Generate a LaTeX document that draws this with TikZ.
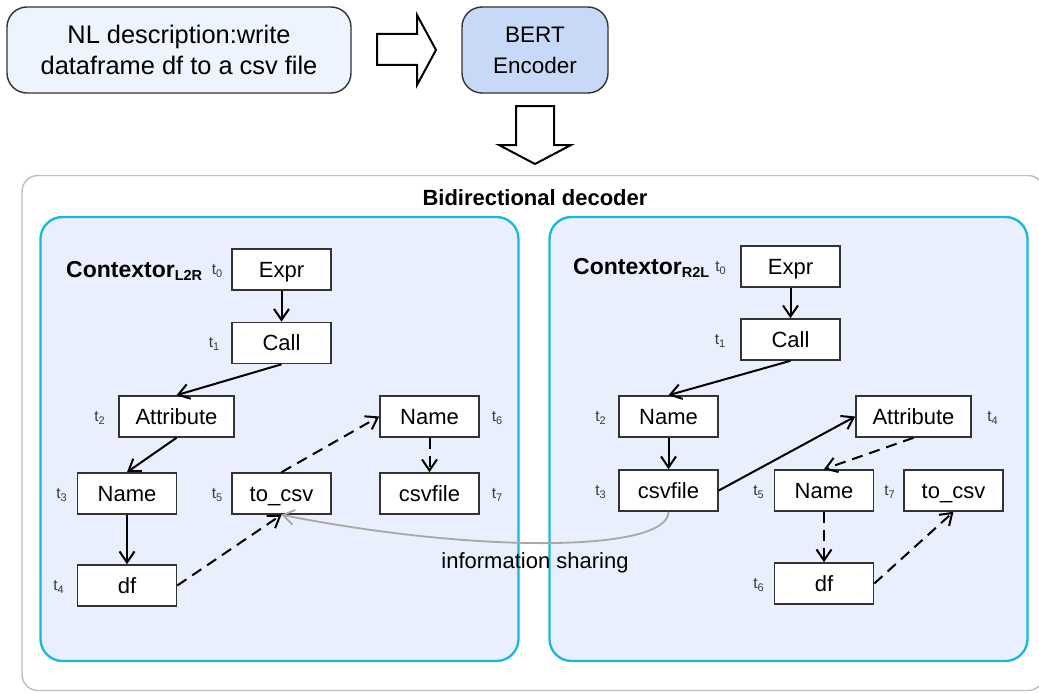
\documentclass[tikz,border=0pt]{standalone}
\usepackage{fontspec}
\setmainfont{Liberation Sans}
\usetikzlibrary{arrows.meta}
\definecolor{nlfill}{HTML}{EEF4FE}
\definecolor{bertfill}{HTML}{C7D9F6}
\definecolor{boxline}{HTML}{333333}
\definecolor{outerline}{HTML}{BDBDBD}
\definecolor{panelline}{HTML}{1AB7DC}
\definecolor{panelfill}{HTML}{E9EFFC}
\definecolor{shareline}{HTML}{A8A8A8}
\definecolor{tcolor}{HTML}{3A3A3A}
\tikzset{
  topbox/.style={draw=boxline, line width=1.4pt, rounded corners=20pt, minimum height=86pt,
    inner sep=0pt, align=center},
  hollow/.style={draw=black, line width=2pt, fill=white, line join=miter},
  outer/.style={draw=outerline, line width=1.4pt, rounded corners=16pt, fill=white, inner sep=0pt},
  panel/.style={draw=panelline, line width=2.3pt, rounded corners=22pt, fill=panelfill, inner sep=0pt},
  ast/.style={draw=boxline, fill=white, line width=1.6pt, minimum width=99pt, minimum height=41pt,
    inner sep=0pt, text height=15.8pt, text depth=0pt, font=\fontsize{22}{26}\selectfont},
  wide/.style={minimum width=115pt},
  tlab/.style={inner sep=0pt, text=tcolor, font=\fontsize{15.5}{18}\selectfont},
  ctx/.style={inner sep=0pt, font=\bfseries\fontsize{23}{26}\selectfont},
  link/.style={-{Straight Barb[length=11pt,width=15pt]}, line width=2pt, draw=black},
  dlink/.style={link, dash pattern=on 11pt off 7pt},
  share/.style={-{Straight Barb[length=11pt,width=15pt]}, line width=1.8pt, draw=shareline},
}
\newcommand{\tsub}[1]{t\raisebox{-3pt}{\fontsize{11}{12}\selectfont #1}}
\newcommand{\ctxsub}[1]{\raisebox{-3.5pt}{\fontsize{14.5}{16}\selectfont #1}}
\begin{document}
\begin{tikzpicture}[x=1pt,y=-1pt]
\useasboundingbox (0,0) rectangle (1039,693);

% input and encoder
\node[topbox, fill=nlfill, minimum width=344pt, font=\fontsize{25.4}{31}\selectfont]
  (nl) at (179,50) {NL description:write\\dataframe df to a csv file};
\node[topbox, fill=bertfill, minimum width=146pt, font=\fontsize{22.5}{31}\selectfont]
  (bert) at (535,50) {BERT\\Encoder};

% hollow block arrows
\draw[hollow] (377,34) -- (417,34) -- (417,15) -- (436,50) -- (417,85) -- (417,65) -- (377,65) -- cycle;
\draw[hollow] (516,106) -- (554,106) -- (554,145) -- (571,145) -- (535,164) -- (499,145) -- (516,145) -- cycle;

% decoder frame and the two contextor panels
\node[outer, minimum width=1022pt, minimum height=515pt] (dec) at (533,433) {};
\node[ctx, font=\bfseries\fontsize{22}{26}\selectfont] (dectitle) at (535,198) {Bidirectional decoder};
\node[panel, minimum width=478pt, minimum height=444pt] (pL) at (279.5,439) {};
\node[panel, minimum width=478pt, minimum height=444pt] (pR) at (788.5,439) {};

% left-to-right contextor
\node[ctx, anchor=base west] (ctxL) at (66,277) {Contextor\ctxsub{L2R}};
\node[ast] (eL) at (281.5,269.5) {Expr};
\node[ast] (cL) at (281.5,343) {Call};
\node[ast, wide] (aL) at (176.5,416.5) {Attribute};
\node[ast] (n3L) at (127,493.5) {Name};
\node[ast] (tcL) at (281.5,493.5) {to\_csv};
\node[ast] (n6L) at (429.5,416.5) {Name};
\node[ast] (cfL) at (429.5,493.5) {csvfile};
\node[ast] (dfL) at (127,585.5) {df};

\node[tlab] (lt0) at (217,271) {\tsub{0}};
\node[tlab] (lt1) at (214,344) {\tsub{1}};
\node[tlab] (lt2) at (99.5,418) {\tsub{2}};
\node[tlab] (lt3) at (61.5,495) {\tsub{3}};
\node[tlab] (lt4) at (58.5,587) {\tsub{4}};
\node[tlab] (lt5) at (217,495) {\tsub{5}};
\node[tlab] (lt6) at (497,418) {\tsub{6}};
\node[tlab] (lt7) at (497,495) {\tsub{7}};

\draw[link] (eL.south) -- (cL.north);
\draw[link] (cL.south) -- (aL.north);
\draw[link] (aL.south) -- (n3L.north);
\draw[link] (n3L.south) -- (dfL.north);
\draw[dlink] (dfL.east) -- (tcL.south);
\draw[dlink] (tcL.north) -- (n6L.west);
\draw[dlink] (n6L.south) -- (cfL.north);

% right-to-left contextor
\node[ctx, anchor=base west] (ctxR) at (573,274) {Contextor\ctxsub{R2L}};
\node[ast] (eR) at (790.5,266.5) {Expr};
\node[ast] (cR) at (790.5,339.5) {Call};
\node[ast] (n2R) at (668.5,416.5) {Name};
\node[ast] (cfR) at (668.5,490.5) {csvfile};
\node[ast, wide] (aR) at (913.5,416.5) {Attribute};
\node[ast] (n5R) at (824,490.5) {Name};
\node[ast] (tcR) at (953.5,490.5) {to\_csv};
\node[ast] (dfR) at (824,583.5) {df};

\node[tlab] (rt0) at (720.5,268) {\tsub{0}};
\node[tlab] (rt1) at (720,341) {\tsub{1}};
\node[tlab] (rt2) at (600.5,418) {\tsub{2}};
\node[tlab] (rt3) at (600.5,492) {\tsub{3}};
\node[tlab] (rt4) at (992.5,418) {\tsub{4}};
\node[tlab] (rt5) at (758.5,492) {\tsub{5}};
\node[tlab] (rt7) at (889.5,492) {\tsub{7}};
\node[tlab] (rt6) at (758.5,585) {\tsub{6}};

\draw[link] (eR.south) -- (cR.north);
\draw[link] (cR.south) -- (n2R.north);
\draw[link] (n2R.south) -- (cfR.north);
\draw[link] (cfR.east) -- (aR.west);
\draw[dlink] (aR.south) -- (n5R.north);
\draw[dlink] (n5R.south) -- (dfR.north);
\draw[dlink] (dfR.east) -- (tcR.south);

% information sharing between the two decoders
\draw[share] (cfR.south) .. controls +(0,40) and (480,554) .. (tcL.south);
\node[inner sep=0pt, font=\fontsize{22}{26}\selectfont] (sharetxt) at (535,563) {information sharing};
\end{tikzpicture}
\end{document}
